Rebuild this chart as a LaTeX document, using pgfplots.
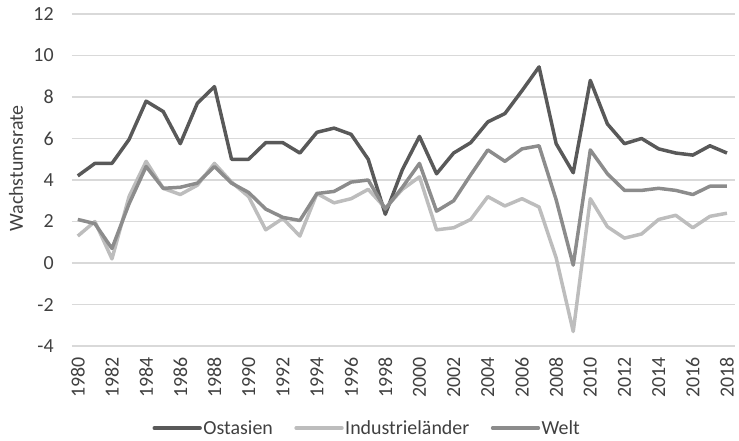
\documentclass[border=0pt]{standalone}
\usepackage{fontspec}
\setmainfont{Carlito}
\usepackage{pgfplots}
\pgfplotsset{compat=1.18}
\definecolor{cOst}{HTML}{595959}
\definecolor{cInd}{HTML}{BDBDBD}
\definecolor{cWelt}{HTML}{8C8C8C}
\definecolor{cGrid}{HTML}{D9D9D9}
\definecolor{cText}{HTML}{404040}
\newcommand\ff{\fontsize{20bp}{24bp}\selectfont}
\begin{document}
\begin{tikzpicture}
\begin{axis}[
  at={(0,0)}, anchor=south west,
  scale only axis, width=665bp, height=333bp,
  xmin=1979.65, xmax=2018.47, ymin=-4, ymax=12,
  ytick={-4,-2,...,12}, xtick={1980,1982,...,2018},
  ymajorgrids, grid style={color=cGrid, line width=1.2bp},
  axis line style={draw=none}, major tick length=0pt, tick style={draw=none},
  /pgf/number format/assume math mode=true,
  /pgf/number format/1000 sep={},
  xticklabel style={rotate=90, anchor=east, inner sep=0pt, font=\ff, text=cText},
  xticklabel shift=11bp,
  yticklabel style={inner sep=0pt, font=\ff, text=cText},
  yticklabel shift=18bp,
  ylabel={Wachstumsrate},
  ylabel style={at={(axis description cs:-0.0842,0.535)}, anchor=center, font=\ff, text=cText},
  legend columns=3,
  legend cell align=left,
  legend image code/.code={\draw[#1, line cap=round] (0bp,0bp) -- (46bp,0bp);},
  legend style={at={(axis description cs:0.445,-0.247)}, anchor=center, draw=none, fill=none,
    font=\ff, text=cText, inner sep=0pt,
    nodes={inner sep=1.5bp},
    /tikz/every even column/.append style={column sep=20bp}},
  every axis plot/.append style={line width=3.5bp, line join=round},
]
\addplot[color=cOst] coordinates {(1980,4.2)(1981,4.8)(1982,4.8)(1983,5.95)(1984,7.8)(1985,7.3)(1986,5.75)(1987,7.7)(1988,8.5)(1989,5.0)(1990,5.0)(1991,5.8)(1992,5.8)(1993,5.3)(1994,6.3)(1995,6.5)(1996,6.2)(1997,5.0)(1998,2.35)(1999,4.5)(2000,6.1)(2001,4.3)(2002,5.3)(2003,5.8)(2004,6.8)(2005,7.2)(2006,8.3)(2007,9.45)(2008,5.75)(2009,4.35)(2010,8.8)(2011,6.7)(2012,5.75)(2013,6.0)(2014,5.5)(2015,5.3)(2016,5.2)(2017,5.65)(2018,5.3)};
\addlegendentry{Ostasien}
\addplot[color=cInd] coordinates {(1980,1.3)(1981,2.0)(1982,0.2)(1983,3.2)(1984,4.9)(1985,3.6)(1986,3.3)(1987,3.75)(1988,4.8)(1989,3.9)(1990,3.2)(1991,1.6)(1992,2.15)(1993,1.3)(1994,3.35)(1995,2.9)(1996,3.1)(1997,3.55)(1998,2.65)(1999,3.55)(2000,4.15)(2001,1.6)(2002,1.7)(2003,2.1)(2004,3.2)(2005,2.75)(2006,3.1)(2007,2.7)(2008,0.25)(2009,-3.3)(2010,3.1)(2011,1.75)(2012,1.2)(2013,1.4)(2014,2.1)(2015,2.3)(2016,1.7)(2017,2.25)(2018,2.4)};
\addlegendentry{Industrieländer}
\addplot[color=cWelt] coordinates {(1980,2.1)(1981,1.9)(1982,0.7)(1983,2.85)(1984,4.65)(1985,3.6)(1986,3.65)(1987,3.85)(1988,4.65)(1989,3.85)(1990,3.4)(1991,2.6)(1992,2.2)(1993,2.05)(1994,3.35)(1995,3.45)(1996,3.9)(1997,4.0)(1998,2.6)(1999,3.65)(2000,4.8)(2001,2.5)(2002,3.0)(2003,4.25)(2004,5.45)(2005,4.9)(2006,5.5)(2007,5.65)(2008,3.05)(2009,-0.1)(2010,5.45)(2011,4.3)(2012,3.5)(2013,3.5)(2014,3.6)(2015,3.5)(2016,3.3)(2017,3.7)(2018,3.7)};
\addlegendentry{Welt}
\end{axis}
\pgfresetboundingbox
\path[use as bounding box] (-72bp,-95bp) rectangle (669bp,347bp);
\end{tikzpicture}
\end{document}
